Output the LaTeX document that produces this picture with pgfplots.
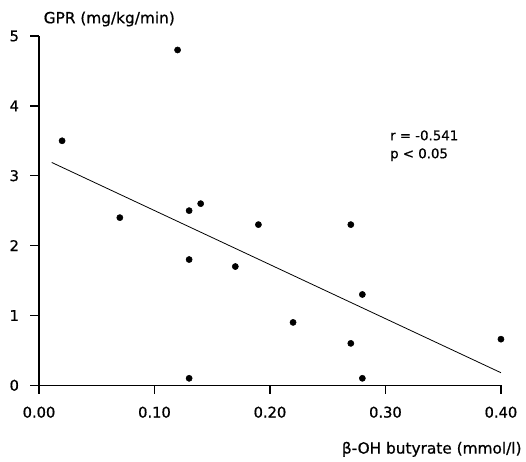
\documentclass[border=0pt]{standalone}
\usepackage{fontspec}
\setmainfont{DejaVu Sans}[FakeBold=0.7]
\usepackage{pgfplots}
\pgfplotsset{compat=1.18}

\begin{document}
\begin{tikzpicture}
\begin{axis}[
  name=ax,
  scale only axis,
  width=346.5pt, height=262pt,
  xmin=0, xmax=0.40, ymin=0, ymax=5,
  axis x line*=bottom, axis y line*=left,
  axis line style={line width=1pt, -},
  every tick/.style={black, line width=1pt},
  tick align=outside,
  major tick length=6.5pt,
  xtick={0,0.1,0.2,0.3,0.4},
  xticklabels={0.00,0.10,0.20,0.30,0.40},
  ytick={0,1,2,3,4,5},
  yticklabels={0,1,2,3,4,5},
  tick label style={font=\fontsize{11}{13}\selectfont},
  x tick label style={yshift=-6pt},
  y tick label style={xshift=-5pt},
  clip=false,
]
% measured points
\addplot[only marks, mark=*, mark size=2.3pt, black] coordinates {
  (0.02,3.5) (0.07,2.4) (0.12,4.8) (0.13,2.5) (0.14,2.6)
  (0.13,1.8) (0.13,0.1) (0.17,1.7) (0.19,2.3) (0.22,0.9)
  (0.27,2.3) (0.28,1.3) (0.27,0.6) (0.28,0.1) (0.40,0.66)
};
% regression line
\addplot[black, line width=0.6pt] coordinates {(0.011,3.19) (0.40,0.18)};

\node[anchor=west, align=left, font=\fontsize{10}{13.5}\selectfont]
  at (axis cs:0.30,3.43) {r = -0.541\\p < 0.05};
\node[anchor=west, yshift=12.75pt, font=\fontsize{11.5}{13}\selectfont]
  at (rel axis cs:0,1) {GPR (mg/kg/min)};
\node[anchor=east, xshift=19pt, yshift=-48pt, font=\fontsize{11.5}{13}\selectfont]
  at (rel axis cs:1,0) {β-OH butyrate (mmol/l)};
\end{axis}
% page margins as in the scan
\path ([shift={(-29.25pt,-56.25pt)}]ax.south west) rectangle ([shift={(18.75pt,27pt)}]ax.north east);
\end{tikzpicture}
\end{document}
